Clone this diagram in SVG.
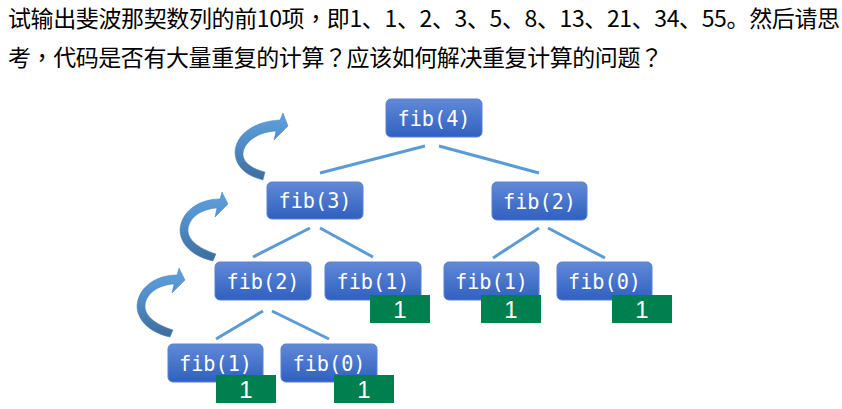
<svg xmlns="http://www.w3.org/2000/svg" width="842" height="409" viewBox="0 0 842 409">
  <defs>
    <linearGradient id="nodeGrad" x1="0" y1="0" x2="0" y2="1">
      <stop offset="0" stop-color="#6189d8"/>
      <stop offset="1" stop-color="#2f60c0"/>
    </linearGradient>
    <linearGradient id="arrowGrad" x1="0" y1="0" x2="0" y2="1">
      <stop offset="0" stop-color="#5ea2e0"/>
      <stop offset="0.5" stop-color="#4f8ac4"/>
      <stop offset="1" stop-color="#3e6c9c"/>
    </linearGradient>
    <style>
      .title { font-family: "Noto Sans CJK SC", "Noto Sans", sans-serif; font-size: 23px; fill: #000; }
      .tc { font-family: "Noto Sans CJK TC", "Noto Sans CJK SC", sans-serif; }
      .node rect { fill: url(#nodeGrad); stroke: #5a80d2; stroke-width: 1; }
      .node text { font-family: "DejaVu Sans Mono", "Liberation Mono", monospace; font-size: 22px; fill: #fff; text-anchor: middle; }
      .val rect { fill: #00804f; }
      .val text { font-family: "Liberation Sans", Arial, sans-serif; font-size: 24px; fill: #fff; text-anchor: middle; }
      .edge { stroke: #5b9bd5; stroke-width: 3; fill: none; }
      .curl { fill: url(#arrowGrad); stroke: #4a80b8; stroke-width: 0.5; }
    </style>
  </defs>

  <text class="title" x="8" y="27" textLength="832" lengthAdjust="spacing">试输出斐波那契数列的前10项<tspan class="tc">，</tspan>即1、1、2、3、5、8、13、21、34、55。然后请思</text>
  <text class="title" x="8" y="66" textLength="655" lengthAdjust="spacing">考<tspan class="tc">，</tspan>代码是否有大量重复的计算<tspan class="tc">？</tspan>应该如何解决重复计算的问题<tspan class="tc">？</tspan></text>

  <g id="connectors">
    <line class="edge" x1="425" y1="146" x2="320" y2="173"/>
    <line class="edge" x1="439" y1="146" x2="539" y2="173"/>
    <line class="edge" x1="310" y1="228" x2="253" y2="257"/>
    <line class="edge" x1="320" y1="228" x2="373" y2="257"/>
    <line class="edge" x1="539" y1="228" x2="493" y2="258"/>
    <line class="edge" x1="548" y1="228" x2="605" y2="258"/>
    <line class="edge" x1="263" y1="311" x2="216" y2="339"/>
    <line class="edge" x1="272" y1="311" x2="329" y2="339"/>
  </g>

  <g id="curl-arrows">
    <path class="curl" transform="translate(288,126)" d="M0,0 L-14,14 L-12,5 C-30,6 -45,16 -45,29 C-44,38 -34,43 -23,46 L-25,54 C-42,50 -53,40 -53,26 C-52,8 -33,-5 -8,-6 L-5,-13 Z"/>
    <path class="curl" transform="translate(228,204)" d="M0,0 L-13,13 L-11,4 C-27,5 -40,14 -40,27 C-39,38 -27,45 -12,50 L-15,57 C-34,53 -48,41 -48,26 C-47,8 -30,-5 -8,-5 L-6,-12 Z"/>
    <path class="curl" transform="translate(185,280)" d="M0,0 L-13,13 L-11,4 C-27,5 -40,14 -40,27 C-39,38 -27,45 -12,50 L-15,57 C-34,53 -48,41 -48,26 C-47,8 -30,-5 -8,-5 L-6,-12 Z"/>
  </g>

  <g id="fib4" class="node"><rect x="386" y="99" width="96" height="38" rx="5"/><text x="434" y="126" textLength="73" lengthAdjust="spacingAndGlyphs">fib(4)</text></g>
  <g id="fib3" class="node"><rect x="267" y="182" width="96" height="37" rx="5"/><text x="315" y="208" textLength="73" lengthAdjust="spacingAndGlyphs">fib(3)</text></g>
  <g id="fib2r" class="node"><rect x="492" y="182" width="95" height="38" rx="5"/><text x="539.5" y="209" textLength="73" lengthAdjust="spacingAndGlyphs">fib(2)</text></g>
  <g id="fib2l" class="node"><rect x="215" y="262" width="96" height="38" rx="5"/><text x="263" y="289" textLength="73" lengthAdjust="spacingAndGlyphs">fib(2)</text></g>
  <g id="fib1a" class="node"><rect x="325" y="262" width="96" height="38" rx="5"/><text x="373" y="289" textLength="73" lengthAdjust="spacingAndGlyphs">fib(1)</text></g>
  <g id="fib1b" class="node"><rect x="444" y="262" width="95" height="38" rx="5"/><text x="491.5" y="289" textLength="73" lengthAdjust="spacingAndGlyphs">fib(1)</text></g>
  <g id="fib0a" class="node"><rect x="557" y="262" width="95" height="38" rx="5"/><text x="604.5" y="289" textLength="73" lengthAdjust="spacingAndGlyphs">fib(0)</text></g>
  <g id="fib1c" class="node"><rect x="168" y="344" width="95" height="38" rx="5"/><text x="215.5" y="371" textLength="73" lengthAdjust="spacingAndGlyphs">fib(1)</text></g>
  <g id="fib0b" class="node"><rect x="281" y="344" width="96" height="38" rx="5"/><text x="329" y="371" textLength="73" lengthAdjust="spacingAndGlyphs">fib(0)</text></g>

  <g id="val1a" class="val"><rect x="370" y="295" width="60" height="28"/><text x="400" y="318">1</text></g>
  <g id="val1b" class="val"><rect x="481" y="295" width="60" height="28"/><text x="511" y="318">1</text></g>
  <g id="val0a" class="val"><rect x="612" y="295" width="60" height="28"/><text x="642" y="318">1</text></g>
  <g id="val1c" class="val"><rect x="216" y="375" width="60" height="28"/><text x="246" y="398">1</text></g>
  <g id="val0b" class="val"><rect x="334" y="375" width="60" height="28"/><text x="364" y="398">1</text></g>
</svg>
